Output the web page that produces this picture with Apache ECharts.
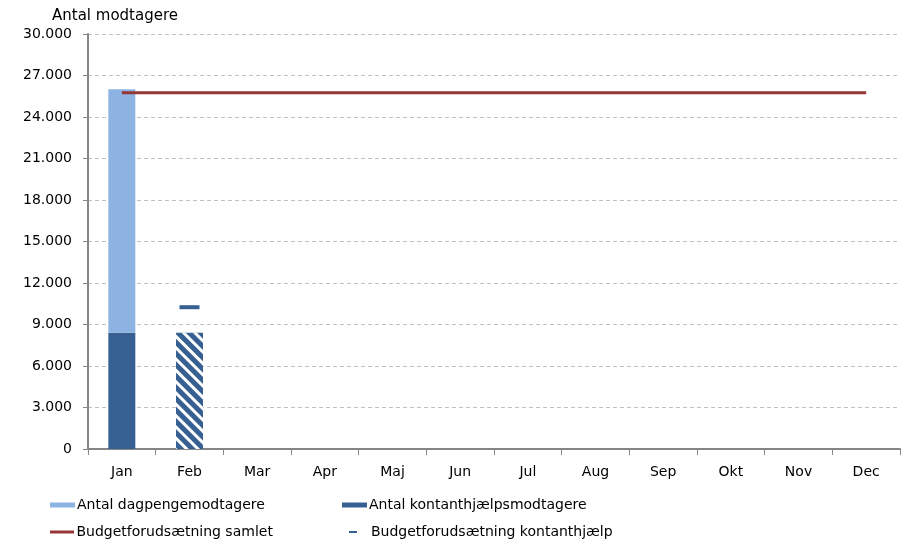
<!DOCTYPE html>
<html>
<head>
<meta charset="utf-8">
<script src="https://cdn.jsdelivr.net/npm/echarts@6/dist/echarts.min.js"></script>
<style>
  html, body { margin: 0; padding: 0; background: #fff; }
  #container { width: 909px; height: 542px; }
</style>
</head>
<body>
<div id="container"></div>
<script>
// maaneder og data
var months = ['Jan', 'Feb', 'Mar', 'Apr', 'Maj', 'Jun', 'Jul', 'Aug', 'Sep', 'Okt', 'Nov', 'Dec']
var dagpenge = [17600, null, null, null, null, null, null, null, null, null, null, null]
var kontanthjaelp = [8400, 8400, null, null, null, null, null, null, null, null, null, null]
var budgetSamlet = [25750, 25750, 25750, 25750, 25750, 25750, 25750, 25750, 25750, 25750, 25750, 25750]
var budgetKontant = [null, 10250, null, null, null, null, null, null, null, null, null, null]
var yTicks = [0, 3000, 6000, 9000, 12000, 15000, 18000, 21000, 24000, 27000, 30000]

var dom = document.getElementById('container')
var myChart = echarts.init(dom, null, { renderer: 'canvas' })

var font = 'DejaVu Sans'
var darkBlue = '#366092'
var lightBlue = '#8db3e2'
var red = '#953735'

// feb er skraveret (foreloebig)
var kontantData = kontanthjaelp.map(function (v, i) {
    if (i == 1) {
        return {
            value: v,
            itemStyle: {
                decal: {
                    symbol: 'rect',
                    color: '#ffffff',
                    dashArrayX: [1, 0],
                    dashArrayY: [3, 5],
                    rotation: Math.PI / 4
                }
            }
        }
    }
    return v
})

function fmt(v) {
    return String(v).replace(/\B(?=(\d{3})+(?!\d))/g, '.')
}

var legendText = { fontFamily: font, fontSize: 14, color: '#000', padding: [0, 0, 0, -3] }
var lineIcon = 'path://M0,0 L24,0 L24,3 L0,3 Z'
var dashIcon = 'path://M0,0 L8,0 L8,2 L0,2 Z'

var option = {
    animation: false,
    textStyle: { fontFamily: font },
    grid: { left: 88, right: 9, top: 34, bottom: 93, containLabel: false },
    legend: [
        { left: 45, top: 493, itemWidth: 25, itemHeight: 5, textStyle: legendText, data: [{ name: 'Antal dagpengemodtagere', icon: 'rect' }] },
        { left: 337, top: 493, itemWidth: 25, itemHeight: 5, textStyle: legendText, data: [{ name: 'Antal kontanthjælpsmodtagere', icon: 'rect' }] },
        { left: 45, top: 520, itemWidth: 25, itemHeight: 3, textStyle: legendText, data: [{ name: 'Budgetforudsætning samlet', icon: lineIcon }] },
        { left: 344, top: 520, itemWidth: 8, itemHeight: 2, textStyle: { fontFamily: font, fontSize: 14, color: '#000', padding: [0, 0, 0, 9] }, data: [{ name: 'Budgetforudsætning kontanthjælp', icon: dashIcon }] }
    ],
    xAxis: {
        type: 'category',
        data: months,
        boundaryGap: true,
        axisLine: { lineStyle: { color: '#868686', width: 2 } },
        axisTick: { show: true, length: 6, lineStyle: { color: '#868686' } },
        axisLabel: { color: '#000', fontSize: 14, fontFamily: font, margin: 16 }
    },
    yAxis: {
        type: 'value',
        min: yTicks[0],
        max: yTicks[yTicks.length - 1],
        interval: 3000,
        name: 'Antal modtagere',
        nameLocation: 'end',
        nameGap: 10,
        nameTextStyle: { color: '#000', fontSize: 15, fontFamily: font, align: 'left', padding: [0, 0, 0, -36] },
        axisLine: { show: true, lineStyle: { color: '#868686', width: 2 } },
        axisTick: { show: true, length: 5, lineStyle: { color: '#868686' } },
        axisLabel: { color: '#000', fontSize: 14, fontFamily: font, margin: 16, formatter: fmt },
        splitLine: { show: true, lineStyle: { color: '#c0c0c0', type: [4, 3], width: 1 } }
    },
    series: [
        {
            name: 'Antal kontanthjælpsmodtagere',
            type: 'bar',
            stack: 'modt',
            barWidth: 27,
            itemStyle: { color: darkBlue },
            data: kontantData
        },
        {
            name: 'Antal dagpengemodtagere',
            type: 'bar',
            stack: 'modt',
            barWidth: 27,
            itemStyle: { color: lightBlue },
            data: dagpenge
        },
        {
            name: 'Budgetforudsætning samlet',
            type: 'line',
            symbol: 'none',
            lineStyle: { color: red, width: 3 },
            itemStyle: { color: red },
            data: budgetSamlet
        },
        {
            name: 'Budgetforudsætning kontanthjælp',
            type: 'scatter',
            symbol: 'rect',
            symbolSize: [20, 4],
            itemStyle: { color: darkBlue, opacity: 1 },
            data: budgetKontant
        }
    ]
}

myChart.setOption(option)
</script>
</body>
</html>
